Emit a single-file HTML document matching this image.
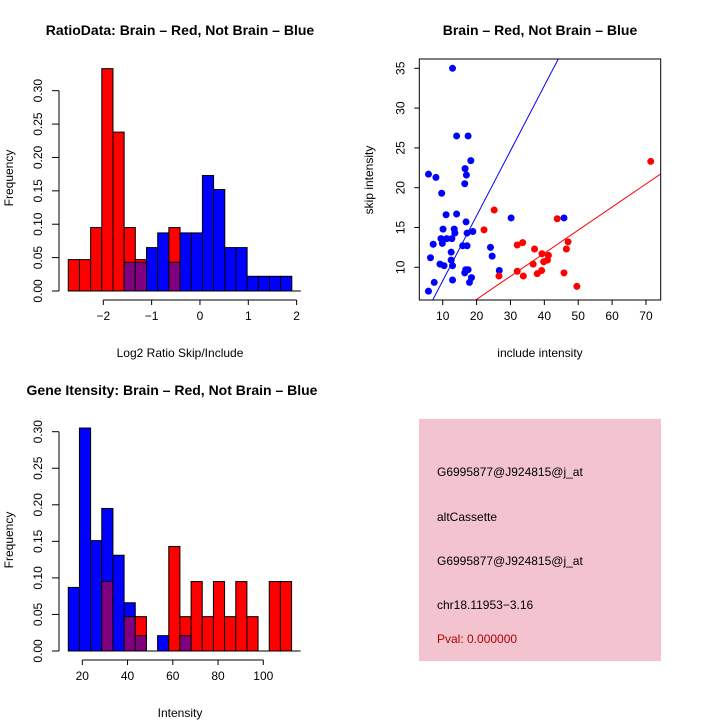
<!DOCTYPE html>
<html><head><meta charset="utf-8">
<style>
html,body{margin:0;padding:0;background:#fff;}
svg{display:block;font-family:"Liberation Sans",sans-serif;}
</style></head>
<body>
<svg id="root" width="720" height="720" viewBox="0 0 720 720">
  <rect x="0" y="0" width="720" height="720" fill="#fff"/>
  <g id="p1"></g>
  <g id="p2"></g>
  <g id="p3"></g>
  <g>
    <rect x="419" y="419" width="242" height="242" fill="#f3c3cf"/>
    <text x="437" y="476" font-size="12">G6995877@J924815@j_at</text>
    <text x="437" y="521" font-size="12">altCassette</text>
    <text x="437" y="565" font-size="12">G6995877@J924815@j_at</text>
    <text x="437" y="609" font-size="12">chr18.11953−3.16</text>
    <text x="437" y="643" font-size="12" fill="#b00000">Pval: 0.000000</text>
  </g>
</svg>
<script>
// ---- Ratio histogram data ----
const ratioStart = -2.725;
const ratioBinWidth = 0.2313;
const ratioRed  = [0.047,0.047,0.095,0.333,0.238,0.095,0.047,0,0,0.095,0,0,0,0,0,0,0,0,0,0];
const ratioBlue = [0,0,0,0,0,0.043,0.043,0.065,0.087,0.043,0.087,0.087,0.173,0.152,0.065,0.065,0.022,0.022,0.022,0.022];
const ratioXTicks = [-2,-1,0,1,2];
const ratioYTicks = ["0.00","0.05","0.10","0.15","0.20","0.25","0.30"];

// ---- Gene intensity histogram data ----
const geneStart = 13.8;
const geneBinWidth = 4.935;
const geneRed  = [0,0,0,0.095,0,0.047,0.047,0,0,0.143,0.047,0.095,0.047,0.095,0.047,0.095,0.047,0,0.095,0.095];
const geneBlue = [0.087,0.305,0.151,0.195,0.131,0.066,0.021,0,0.021,0,0.021,0,0,0,0,0,0,0,0,0];
const geneXTicks = [20,40,60,80,100];
const geneYTicks = ["0.00","0.05","0.10","0.15","0.20","0.25","0.30"];

// ---- Scatter data ----
const blueInclude = [5.8,12.9,14.1,17.5,5.8,8.0,18.3,16.6,17.0,16.5,9.7,11.0,14.1,16.9,10.1,13.4,13.6,17.2,18.9,9.5,11.2,12.7,9.9,7.2,15.9,17.2,12.5,6.4,12.5,9.2,10.4,12.9,16.8,17.5,16.5,18.5,17.9,7.5,12.9,24.1,24.6,26.7,30.2,45.8];
const blueSkip    = [7.0,35.0,26.5,26.5,21.7,21.3,23.4,22.4,21.6,20.5,19.3,16.6,16.7,15.7,14.8,14.8,14.3,14.3,14.5,13.6,13.6,13.6,13.0,12.9,12.7,12.7,11.9,11.2,10.9,10.4,10.2,10.2,9.7,9.7,9.3,8.7,8.1,8.1,8.4,12.5,11.4,9.6,16.2,16.2];
const redInclude  = [71.4,25.2,22.2,43.8,47.0,46.5,33.6,32.0,37.1,39.3,41.2,40.9,39.8,36.7,32.0,39.2,37.9,26.6,33.8,45.8,49.6];
const redSkip     = [23.3,17.2,14.7,16.1,13.2,12.3,13.1,12.8,12.3,11.7,11.5,10.9,10.7,10.4,9.5,9.6,9.2,8.9,8.9,9.3,7.6];
const blueFit = [0.13, 0.817]; // intercept, slope
const redFit  = [0.17, 0.290];
const scatterXTicks = [10,20,30,40,50,60,70];
const scatterYTicks = [10,15,20,25,30,35];

const NS = "http://www.w3.org/2000/svg";
function mk(parent, tag, attrs, text){
  const e = document.createElementNS(NS, tag);
  for (const k in attrs) e.setAttribute(k, attrs[k]);
  if (text !== undefined) e.textContent = text;
  parent.appendChild(e);
  return e;
}

function histogram(g, o){
  const sx = v => o.px0 + (v - o.x0) * o.pxPerX;
  const sy = v => o.py0 - v * o.pxPerY;
  const n = o.red.length;
  for (let i = 0; i < n; i++){
    const a = o.start + i*o.bw, b = a + o.bw;
    const r = o.red[i], bl = o.blue[i];
    const hi = Math.max(r, bl), lo = Math.min(r, bl);
    if (hi > 0){
      const e = mk(g,'rect',{x:sx(a),y:sy(hi),width:sx(b)-sx(a),height:sy(0)-sy(hi),fill:(r>=bl?'#ff0000':'#0000ff'),stroke:'#000','stroke-width':1});
      
      
    }
    if (lo > 0){
      const e = mk(g,'rect',{x:sx(a),y:sy(lo),width:sx(b)-sx(a),height:sy(0)-sy(lo),fill:'#800080',stroke:'#000','stroke-width':1});
      
      
    }
  }
  const bl = mk(g,'line',{x1:sx(o.start),x2:sx(o.start+n*o.bw)+9,y1:sy(0),y2:sy(0),stroke:'#000','stroke-width':1});
  
  
  const xa = mk(g,'g',{});
  
  
  const ay = sy(0) + 9;
  mk(xa,'line',{x1:sx(o.xTicks[0]),x2:sx(o.xTicks[o.xTicks.length-1]),y1:ay,y2:ay,stroke:'#000'});
  o.xTicks.forEach(t=>{
    mk(xa,'line',{x1:sx(t),x2:sx(t),y1:ay,y2:ay+5,stroke:'#000'});
    const tl = mk(xa,'text',{x:sx(t),y:ay+20,'font-size':12,'text-anchor':'middle'}, String(t).replace('-','−'));
    
    
  });
  const ya = mk(g,'g',{});
  
  
  const yax = o.yAxisX;
  mk(ya,'line',{x1:yax,x2:yax,y1:sy(0),y2:sy(parseFloat(o.yTicks[o.yTicks.length-1])),stroke:'#000'});
  o.yTicks.forEach(t=>{
    const v = parseFloat(t);
    mk(ya,'line',{x1:yax-7,x2:yax,y1:sy(v),y2:sy(v),stroke:'#000'});
    const tl = mk(ya,'text',{x:0,y:0,'font-size':12,'text-anchor':'middle',transform:`translate(${yax-17},${sy(v)}) rotate(-90)`}, t);
    
    
  });
  const t1 = mk(g,'text',{x:o.titleX,y:o.titleY,'font-size':14,'font-weight':'bold','text-anchor':'middle'}, o.title);
  
  
  const t2 = mk(g,'text',{x:o.xlabX,y:o.xlabY,'font-size':12,'text-anchor':'middle'}, o.xlab);
  
  
  const t3 = mk(g,'text',{x:0,y:0,'font-size':12,'text-anchor':'middle',transform:`translate(13,${o.ylabY}) rotate(-90)`}, 'Frequency');
  
  
}

histogram(document.getElementById('p1'), {
  red: ratioRed, blue: ratioBlue, start: ratioStart, bw: ratioBinWidth,
  x0: -2, px0: 103.3, pxPerX: 48.33, py0: 291, pxPerY: 667.7,
  xTicks: ratioXTicks, yTicks: ratioYTicks, yAxisX: 59,
  title: 'RatioData: Brain – Red, Not Brain – Blue', titleX: 180, titleY: 35,
  xlab: 'Log2 Ratio Skip/Include', xlabX: 180, xlabY: 357, ylabY: 178
});
histogram(document.getElementById('p3'), {
  red: geneRed, blue: geneBlue, start: geneStart, bw: geneBinWidth,
  x0: 20, px0: 82.3, pxPerX: 2.2625, py0: 651, pxPerY: 731,
  xTicks: geneXTicks, yTicks: geneYTicks, yAxisX: 59,
  title: 'Gene Itensity: Brain – Red, Not Brain – Blue', titleX: 172, titleY: 395,
  xlab: 'Intensity', xlabX: 180, xlabY: 717, ylabY: 540
});

// ---- Scatter ----
(function(){
  const g = document.getElementById('p2');
  const L=419.3,R=660.7,T=59,B=300;
  const sx = v => 442.7 + (v-10)*3.388;
  const sy = v => 267.3 - (v-10)*7.96;
  const cp = mk(g,'clipPath',{id:'sc'});
  mk(cp,'rect',{x:L,y:T,width:R-L,height:B-T});
  const pts = mk(g,'g',{});
  
  
  blueInclude.forEach((x,i)=>{
    const c = mk(pts,'circle',{cx:sx(x),cy:sy(blueSkip[i]),r:3.5,fill:'#0000ff'});
    
    
  });
  redInclude.forEach((x,i)=>{
    const c = mk(pts,'circle',{cx:sx(x),cy:sy(redSkip[i]),r:3.5,fill:'#ff0000'});
    
    
  });
  const lx0 = 0, lx1 = 80;
  const lb = mk(g,'line',{x1:sx(lx0),y1:sy(blueFit[0]+blueFit[1]*lx0),x2:sx(lx1),y2:sy(blueFit[0]+blueFit[1]*lx1),stroke:'#0000ff','stroke-width':1,'clip-path':'url(#sc)'});
  
  
  const lr = mk(g,'line',{x1:sx(lx0),y1:sy(redFit[0]+redFit[1]*lx0),x2:sx(lx1),y2:sy(redFit[0]+redFit[1]*lx1),stroke:'#ff0000','stroke-width':1,'clip-path':'url(#sc)'});
  
  
  const box = mk(g,'rect',{x:L,y:T,width:R-L,height:B-T,fill:'none',stroke:'#000'});
  
  
  scatterXTicks.forEach(t=>{
    mk(g,'line',{x1:sx(t),x2:sx(t),y1:B,y2:B+5,stroke:'#000'});
    const tl = mk(g,'text',{x:sx(t),y:B+20,'font-size':12,'text-anchor':'middle'}, t);
    
    
  });
  scatterYTicks.forEach(t=>{
    mk(g,'line',{x1:L-5,x2:L,y1:sy(t),y2:sy(t),stroke:'#000'});
    const tl = mk(g,'text',{x:0,y:0,'font-size':12,'text-anchor':'middle',transform:`translate(${L-15},${sy(t)}) rotate(-90)`}, t);
    
    
  });
  const t1 = mk(g,'text',{x:540,y:35,'font-size':14,'font-weight':'bold','text-anchor':'middle'}, 'Brain – Red, Not Brain – Blue');
  
  
  const t2 = mk(g,'text',{x:540,y:357,'font-size':12,'text-anchor':'middle'}, 'include intensity');
  
  
  const t3 = mk(g,'text',{x:0,y:0,'font-size':12,'text-anchor':'middle',transform:`translate(373,180) rotate(-90)`}, 'skip intensity');
  
  
})();
</script>
</body></html>
